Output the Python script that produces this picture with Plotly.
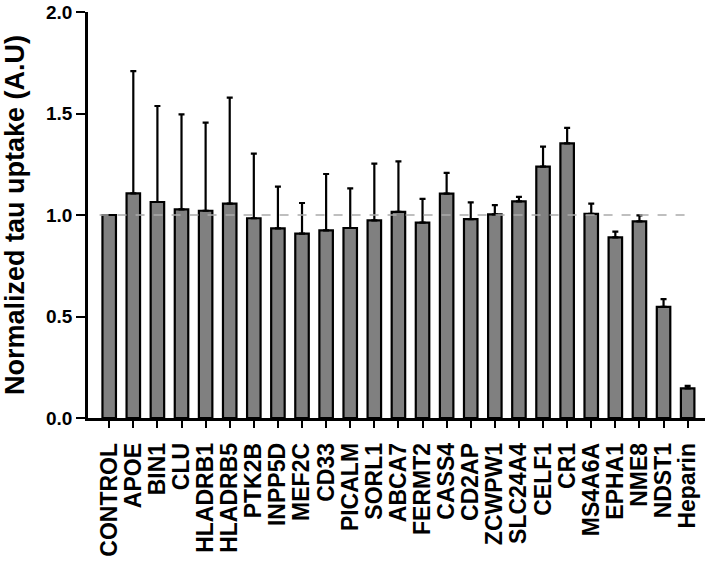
import plotly.graph_objects as go

categories = ["CONTROL", "APOE", "BIN1", "CLU", "HLADRB1", "HLADRB5", "PTK2B", "INPP5D",
              "MEF2C", "CD33", "PICALM", "SORL1", "ABCA7", "FERMT2", "CASS4", "CD2AP",
              "ZCWPW1", "SLC24A4", "CELF1", "CR1", "MS4A6A", "EPHA1", "NME8", "NDST1", "Heparin"]
means = [1.00, 1.107, 1.064, 1.028, 1.021, 1.056, 0.984, 0.934,
         0.908, 0.924, 0.936, 0.974, 1.015, 0.962, 1.105, 0.980,
         1.003, 1.067, 1.238, 1.353, 1.006, 0.890, 0.969, 0.547, 0.146]
upper = [1.00, 1.709, 1.537, 1.496, 1.455, 1.578, 1.302, 1.140,
         1.059, 1.202, 1.131, 1.253, 1.264, 1.079, 1.208, 1.062,
         1.049, 1.089, 1.337, 1.429, 1.056, 0.918, 0.998, 0.586, 0.158]
y_ticks = [0.0, 0.5, 1.0, 1.5, 2.0]
y_title = "Normalized tau uptake (A.U)"

err_plus = [u - m for u, m in zip(upper, means)]
xs = list(range(len(categories)))
FONT = "Liberation Sans, Arial, sans-serif"

fig = go.Figure()
fig.add_trace(go.Bar(
    x=xs, y=means, width=0.56,
    marker=dict(color="#808080", line=dict(color="black", width=2.2)),
    error_y=dict(type="data", symmetric=False, array=err_plus,
                 arrayminus=[0] * len(means), color="black", thickness=2.2, width=3),
))
fig.add_shape(type="line", xref="x", yref="y", x0=-0.4, x1=24.2, y0=1.0, y1=1.0,
              line=dict(color="#aaaaaa", width=1.5, dash="dash"), layer="above")

fig.update_layout(
    width=709, height=564,
    margin=dict(l=88, r=4, t=12, b=146),
    plot_bgcolor="white", paper_bgcolor="white",
    showlegend=False,
    font=dict(family=FONT, color="black"),
)
fig.update_xaxes(
    range=[-0.88, 24.72], tickmode="array", tickvals=xs, ticktext=categories,
    tickangle=-90, tickfont=dict(family=FONT, size=23, weight="bold", color="black"),
    ticklabelstandoff=6,
    showline=True, linecolor="black", linewidth=2.5, ticks="outside", ticklen=7,
    tickwidth=2, tickcolor="black", showgrid=False, zeroline=False, automargin=False,
)
fig.update_yaxes(
    range=[0, 2.0], tickmode="array", tickvals=y_ticks, ticktext=[f"{v:.1f}" for v in y_ticks],
    tickfont=dict(family=FONT, size=19, weight="bold", color="black"),
    showline=True, linecolor="black", linewidth=2.5, ticks="outside", ticklen=9,
    tickwidth=2, tickcolor="black", showgrid=False, zeroline=False, automargin=False,
    title=dict(text=y_title, font=dict(family=FONT, size=27, weight="bold", color="black"), standoff=14),
)
fig.write_html("out.html", config={"displayModeBar": False},
               post_script="document.body.style.margin='0px';document.body.style.padding='0px';")
